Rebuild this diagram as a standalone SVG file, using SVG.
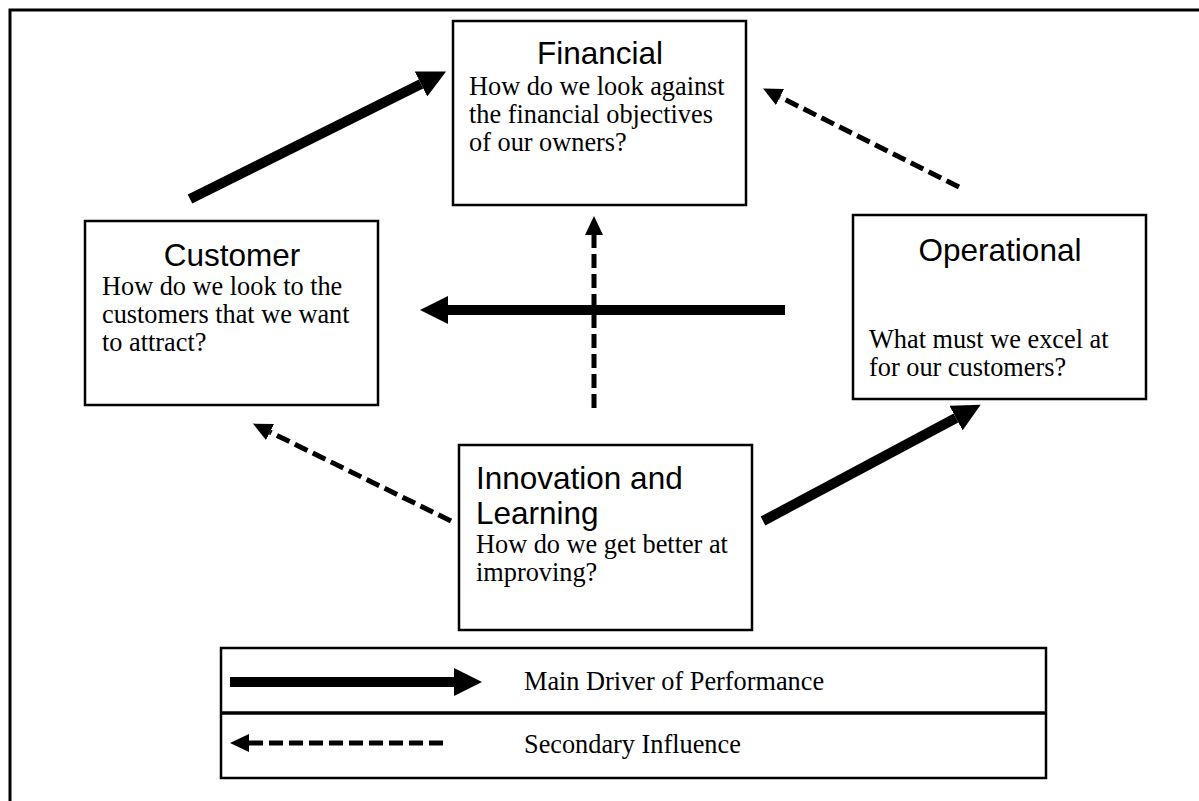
<svg xmlns="http://www.w3.org/2000/svg" width="1199" height="801" viewBox="0 0 1199 801">
  <style>
    .box { fill: #fff; stroke: #000; stroke-width: 2.5; }
    .frame { fill: none; stroke: #000; stroke-width: 3; }
    .title { font-family: "Liberation Sans", Arial, sans-serif; font-size: 31.5px; fill: #000; }
    .body { font-family: "Liberation Serif", "Times New Roman", serif; font-size: 26.3px; fill: #000; }
    .main { fill: none; stroke: #000; stroke-width: 10; stroke-linecap: butt; marker-end: url(#headMain); }
    .second { fill: none; stroke: #000; stroke-width: 5; stroke-dasharray: 14 6; stroke-linecap: butt; marker-end: url(#headSecond); }
  </style>
  <defs>
    <!-- heads start where the line stops, so the thick stroke never pokes past the tip -->
    <marker id="headMain" markerUnits="userSpaceOnUse" viewBox="0 0 28 28" markerWidth="28" markerHeight="28" refX="0" refY="14" orient="auto">
      <path d="M0,0 L28,14 L0,28 Z" fill="#000"/>
    </marker>
    <marker id="headSecond" markerUnits="userSpaceOnUse" viewBox="0 0 19 18" markerWidth="19" markerHeight="18" refX="0" refY="9" orient="auto">
      <path d="M0,0 L19,9 L0,18 Z" fill="#000"/>
    </marker>
  </defs>

  <rect width="1199" height="801" fill="#fff"/>
  <!-- page frame: top and left rules -->
  <path class="frame" d="M10,801 V10 H1199"/>

  <g id="connectors">
    <!-- Customer -> Financial -->
    <path class="main" d="M190,199 L421,84"/>
    <!-- Operational -> Financial -->
    <path class="second" d="M959,187 L780,97"/>
    <!-- Operational -> Customer -->
    <path class="main" d="M785,310 L448,310"/>
    <!-- Innovation -> Financial -->
    <path class="second" d="M594,408 L594,235"/>
    <!-- Innovation -> Customer -->
    <path class="second" d="M451,521 L270,432"/>
    <!-- Innovation -> Operational -->
    <path class="main" d="M763,521 L956,418"/>
  </g>

  <g id="financial">
    <rect class="box" x="453" y="21" width="293" height="184"/>
    <text class="title" x="600" y="64" text-anchor="middle">Financial</text>
    <text class="body" x="469" y="95">How do we look against</text>
    <text class="body" x="469" y="123">the financial objectives</text>
    <text class="body" x="469" y="151">of our owners?</text>
  </g>

  <g id="customer">
    <rect class="box" x="85" y="221" width="293" height="184"/>
    <text class="title" x="232" y="266" text-anchor="middle">Customer</text>
    <text class="body" x="102" y="295">How do we look to the</text>
    <text class="body" x="102" y="323">customers that we want</text>
    <text class="body" x="102" y="351">to attract?</text>
  </g>

  <g id="operational">
    <rect class="box" x="853" y="215" width="293" height="184"/>
    <text class="title" x="1000" y="261" text-anchor="middle">Operational</text>
    <text class="body" x="869" y="348">What must we excel at</text>
    <text class="body" x="869" y="376">for our customers?</text>
  </g>

  <g id="innovation">
    <rect class="box" x="459" y="445" width="293" height="185"/>
    <text class="title" x="476" y="489">Innovation and</text>
    <text class="title" x="476" y="524">Learning</text>
    <text class="body" x="476" y="553">How do we get better at</text>
    <text class="body" x="476" y="581">improving?</text>
  </g>

  <g id="legend">
    <rect class="box" x="221" y="648" width="825" height="130"/>
    <line x1="221" y1="713" x2="1046" y2="713" stroke="#000" stroke-width="3.5"/>
    <path class="main" d="M230,682 L454,682"/>
    <text class="body" x="524" y="690">Main Driver of Performance</text>
    <path class="second" d="M443,743 L249,743"/>
    <text class="body" x="524" y="753">Secondary Influence</text>
  </g>
</svg>
